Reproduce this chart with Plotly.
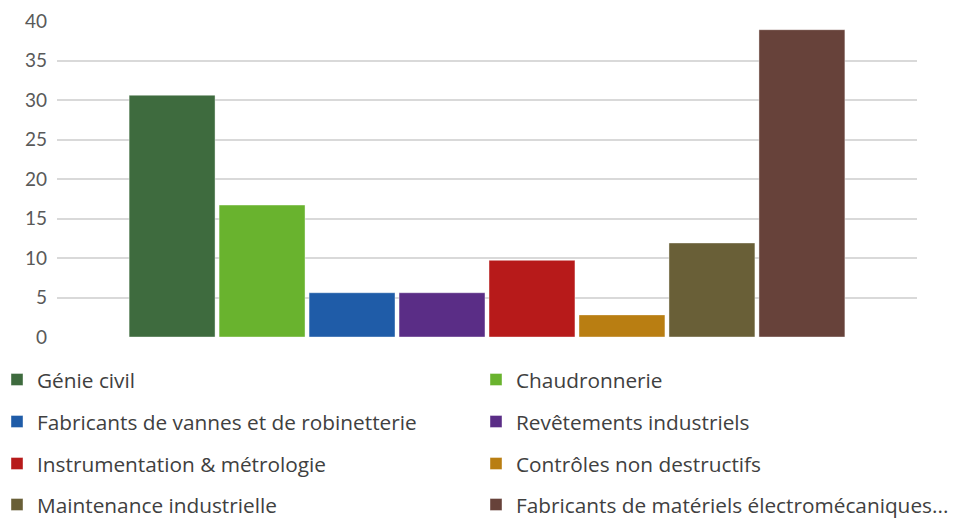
import plotly.graph_objects as go

categories = ["Génie civil", "Chaudronnerie", "Fabricants de vannes et de robinetterie",
              "Revêtements industriels", "Instrumentation & métrologie",
              "Contrôles non destructifs", "Maintenance industrielle",
              "Fabricants de matériels électromécaniques..."]
values = [30.6, 16.7, 5.6, 5.6, 9.7, 2.8, 11.9, 38.9]
colors = ["#3e6b3e", "#69b32e", "#1f5ca8", "#5a2d86", "#b71a1a", "#b97e12", "#695f37", "#67423a"]
tick_vals = [0, 5, 10, 15, 20, 25, 30, 35, 40]

W, H = 957, 518
ML, MR, MT, MB = 57, 40, 21, 181
PW = W - ML - MR
# legend box left edges (px) and row centres (px)
leg_x = [-3, 476]
leg_y = [380, 422, 464, 505]

fig = go.Figure()
layout_legends = {}
for i, (name, v, c) in enumerate(zip(categories, values, colors)):
    key = "legend" if i == 0 else f"legend{i+1}"
    fig.add_trace(go.Bar(x=[""], y=[v], name=name,
                         marker=dict(color=c, line=dict(width=0.8, color="rgba(255,255,255,0.5)")),
                         legend=key, hoverinfo="name+y"))
    col = i % 2
    row = i // 2
    layout_legends[key] = dict(
        xref="paper", yref="container",
        x=(leg_x[col] - ML) / PW, y=1 - leg_y[row] / H,
        xanchor="left", yanchor="middle",
        bgcolor="rgba(0,0,0,0)", borderwidth=0,
        font=dict(family="Open Sans", size=20.8, color="#404040"),
        itemwidth=30,
    )

fig.update_layout(
    width=W, height=H,
    margin=dict(l=ML, r=MR, t=MT, b=MB, autoexpand=False),
    paper_bgcolor="white", plot_bgcolor="white",
    barmode="group", bargap=0.163, bargroupgap=0.045,
    showlegend=True,
    xaxis=dict(showticklabels=False, showgrid=False, zeroline=False, showline=False, ticks=""),
    yaxis=dict(range=[0, 40], tickvals=tick_vals, showgrid=True, gridcolor="#d9d9d9", gridwidth=1.5,
               zeroline=False, showline=False, ticks="", ticklabelstandoff=9,
               tickfont=dict(family="Lato", size=19, color="#595959")),
    **layout_legends,
)

fig.write_html("out.html", config={"displayModeBar": False},
               post_script="document.body.style.margin='0';")
